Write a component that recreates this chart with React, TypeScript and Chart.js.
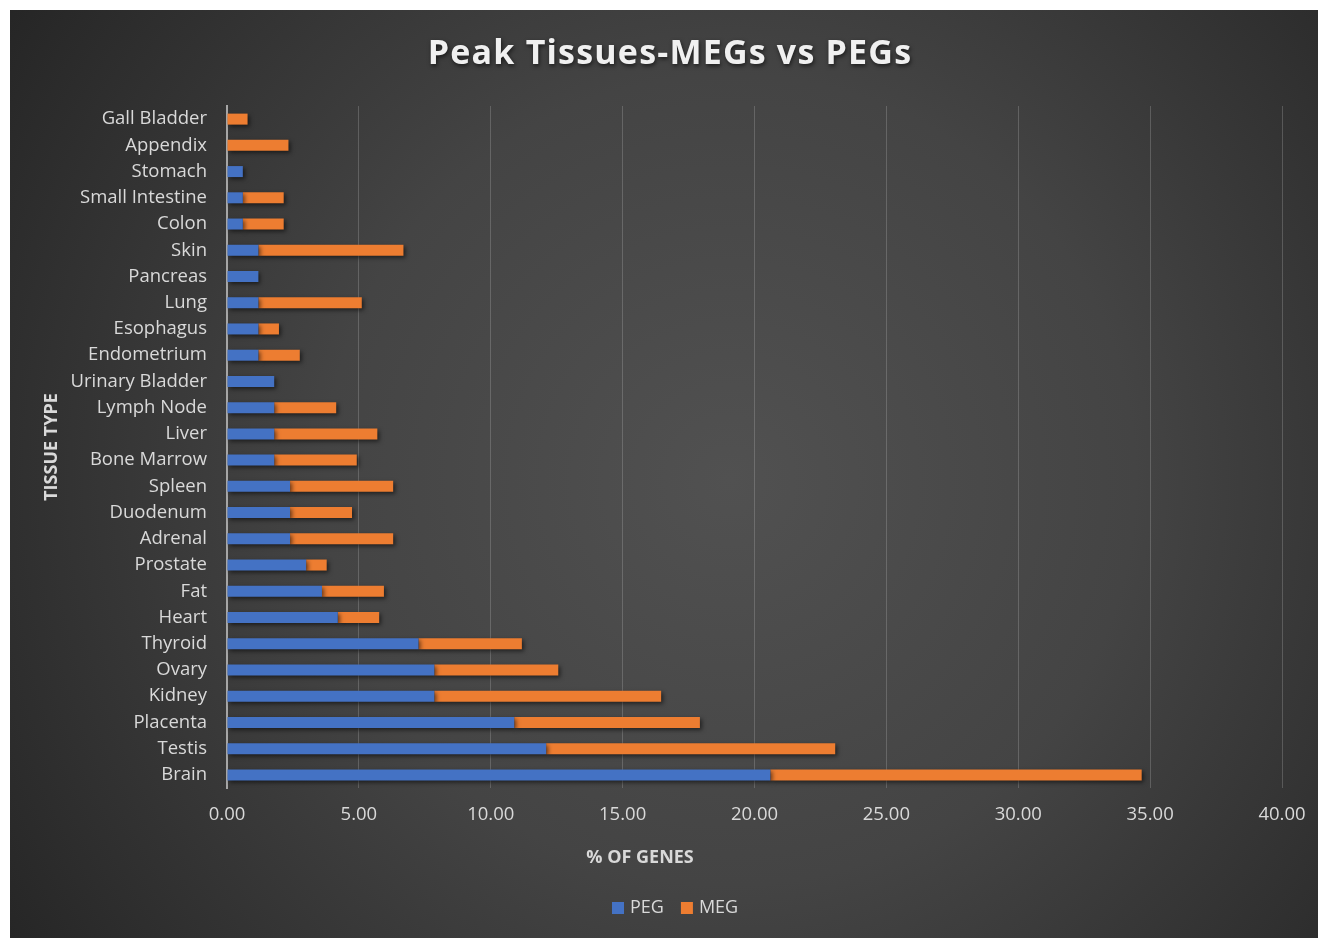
import React, { useEffect, useRef } from "react";
import { Chart, registerables } from "chart.js";

Chart.register(...registerables);

const categories = [
  "Gall Bladder", "Appendix", "Stomach", "Small Intestine", "Colon", "Skin", "Pancreas",
  "Lung", "Esophagus", "Endometrium", "Urinary Bladder", "Lymph Node", "Liver",
  "Bone Marrow", "Spleen", "Duodenum", "Adrenal", "Prostate", "Fat", "Heart",
  "Thyroid", "Ovary", "Kidney", "Placenta", "Testis", "Brain",
];
const pegValues = [
  0, 0, 0.6, 0.6, 0.6, 1.19, 1.19, 1.19, 1.19, 1.19, 1.79, 1.79, 1.79, 1.79,
  2.39, 2.39, 2.39, 3.0, 3.6, 4.2, 7.26, 7.86, 7.86, 10.89, 12.1, 20.6,
];
const megValues = [
  0.78, 2.33, 0, 1.55, 1.55, 5.5, 0, 3.92, 0.78, 1.57, 0, 2.35, 3.91, 3.13,
  3.91, 2.35, 3.91, 0.78, 2.35, 1.57, 3.92, 4.7, 8.6, 7.04, 10.96, 14.08,
];
const seriesNames = ["PEG", "MEG"];
const seriesColors = ["#4472C4", "#ED7D31"];
const titleText = "Peak Tissues-MEGs vs PEGs";
const xTitle = "% OF GENES";
const yTitle = "TISSUE TYPE";

const FONT = "'Open Sans', 'Noto Sans', sans-serif";
const TEXT = "#d9d9d9";

const bgPlugin = {
  id: "bg",
  beforeDraw(chart: any) {
    const { ctx, width, height } = chart;
    ctx.save();
    const g = ctx.createRadialGradient(720, 470, 0, 720, 470, 900);
    g.addColorStop(0, "#515151");
    g.addColorStop(0.45, "#444444");
    g.addColorStop(1, "#232323");
    ctx.fillStyle = g;
    ctx.fillRect(0, 0, width, height);
    ctx.restore();
  },
  afterDraw(chart: any) {
    const { ctx } = chart;
    // title
    ctx.save();
    ctx.font = `bold 34px ${FONT}`;
    (ctx as any).letterSpacing = "1.2px";
    ctx.fillStyle = "#f0f0f0";
    ctx.textAlign = "center";
    ctx.textBaseline = "middle";
    ctx.shadowColor = "rgba(0,0,0,0.6)";
    ctx.shadowBlur = 4;
    ctx.shadowOffsetX = 1;
    ctx.shadowOffsetY = 2;
    ctx.fillText(titleText, 660, 44);
    ctx.restore();

    // x axis title
    ctx.save();
    ctx.font = `bold 18px ${FONT}`;
    ctx.fillStyle = TEXT;
    ctx.textAlign = "center";
    ctx.textBaseline = "middle";
    ctx.fillText(xTitle, 630, 848);
    ctx.restore();

    // legend
    ctx.save();
    ctx.font = `18px ${FONT}`;
    ctx.textBaseline = "middle";
    ctx.textAlign = "left";
    const ly = 898;
    let lx = 602;
    seriesNames.forEach((name, i) => {
      ctx.fillStyle = seriesColors[i];
      ctx.fillRect(lx, ly - 6, 12, 12);
      ctx.fillStyle = TEXT;
      ctx.fillText(name, lx + 18, ly);
      lx += 18 + ctx.measureText(name).width + 17;
    });
    ctx.restore();
  },
};

const shadowPlugin = {
  id: "barShadow",
  beforeDatasetsDraw(chart: any) {
    const ctx = chart.ctx;
    ctx.save();
    ctx.shadowColor = "rgba(0,0,0,0.55)";
    ctx.shadowBlur = 4;
    ctx.shadowOffsetX = 2;
    ctx.shadowOffsetY = 2;
  },
  afterDatasetsDraw(chart: any) {
    chart.ctx.restore();
  },
};

export default function App() {
  const ref = useRef<HTMLCanvasElement | null>(null);
  useEffect(() => {
    if (!ref.current) return;
    const chart = new Chart(ref.current, {
      type: "bar",
      data: {
        labels: categories,
        datasets: [
          { label: seriesNames[0], data: pegValues, backgroundColor: seriesColors[0], borderWidth: 0 },
          { label: seriesNames[1], data: megValues, backgroundColor: seriesColors[1], borderWidth: 0 },
        ],
      },
      plugins: [bgPlugin, shadowPlugin],
      options: {
        indexAxis: "y",
        animation: false,
        responsive: false,
        maintainAspectRatio: false,
        datasets: { bar: { barPercentage: 0.42, categoryPercentage: 1 } },
        layout: { padding: { top: 96, right: 36, left: 0, bottom: 90 } },
        scales: {
          x: {
            stacked: true,
            min: 0,
            max: 40,
            ticks: {
              stepSize: 5,
              color: TEXT,
              font: { family: FONT, size: 18.5 },
              padding: 16,
              callback: (v: any) => Number(v).toFixed(2),
            },
            grid: { color: "rgba(200,200,200,0.25)", lineWidth: 1, drawTicks: false },
            border: { display: false },
            title: { display: false },
            afterFit: (s: any) => {
              s.height = 60;
              s.paddingRight = 0;
              s.paddingLeft = 0;
            },
          },
          y: {
            stacked: true,
            ticks: { color: TEXT, font: { family: FONT, size: 18.5 }, padding: 20 },
            grid: { display: false, drawTicks: false },
            border: { display: true, color: "#a6a6a6", width: 2 },
            title: {
              display: true,
              text: yTitle,
              color: TEXT,
              font: { family: FONT, size: 18, weight: "bold" },
              padding: { top: 31, bottom: 0 },
            },
            afterFit: (s: any) => { s.width = 217; },
          },
        },
        plugins: {
          legend: { display: false },
          tooltip: { enabled: false },
          title: { display: false },
        },
      },
    } as any);
    return () => chart.destroy();
  }, []);
  return (
    <div style={{ position: "fixed", left: 10, top: 10, width: 1308, height: 928 }}>
      <canvas ref={ref} width={1308} height={928} style={{ width: 1308, height: 928, display: "block" }} />
    </div>
  );
}
